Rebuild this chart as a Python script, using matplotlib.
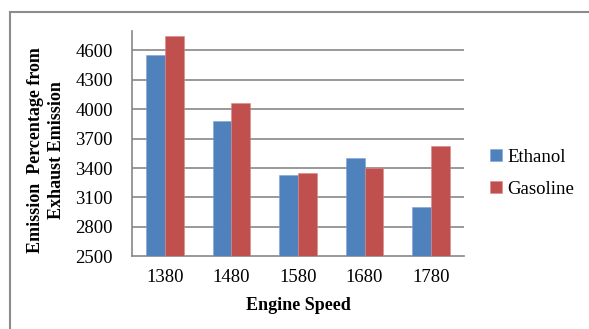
import numpy as np
import matplotlib.pyplot as plt
from matplotlib.lines import Line2D

# engine speed (rpm) and emission readings per fuel
SPEEDS   = ["1380", "1480", "1580", "1680", "1780"]
ETHANOL  = [4555, 3880, 3330, 3505, 3005]
GASOLINE = [4750, 4060, 3345, 3400, 3620]
Y_TICKS  = [2500, 2800, 3100, 3400, 3700, 4000, 4300, 4600]

BLUE = "#4F81BD"
RED  = "#C0504D"
GRID = "#878787"

plt.rcParams["font.family"] = ["Liberation Serif", "DejaVu Serif"]

fig = plt.figure(figsize=(5.89, 3.29), dpi=100)
ax = fig.add_axes([0.2236, 0.221, 0.5647, 0.6857])

x = np.arange(len(SPEEDS))
w = 0.28
ax.bar(x - w / 2, ETHANOL, w, color=BLUE, label="Ethanol", zorder=3,
       edgecolor="#7FA3D3", linewidth=0.4)
ax.bar(x + w / 2, GASOLINE, w, color=RED, label="Gasoline", zorder=3,
       edgecolor="#D98A88", linewidth=0.4)

ax.set_xlim(-0.5, len(SPEEDS) - 0.5)
ax.set_ylim(2500, 4800)
ax.set_yticks(Y_TICKS)
ax.set_yticklabels([str(t) for t in Y_TICKS], fontsize=13.5)
ax.set_xticks(x)
ax.set_xticklabels(SPEEDS, fontsize=13.5)
ax.tick_params(axis="both", length=0)
ax.tick_params(axis="y", pad=13.5)
ax.tick_params(axis="x", pad=9)

for t in Y_TICKS[1:]:
    ax.axhline(t, color=GRID, linewidth=1.2, zorder=1)

for side in ("top", "right"):
    ax.spines[side].set_visible(False)
for side in ("left", "bottom"):
    ax.spines[side].set_color(GRID)
    ax.spines[side].set_linewidth(1.2)

ax.set_xlabel("Engine Speed", fontsize=13, fontweight="bold", labelpad=8)
fig.text(0.078, 0.544, "Emission  Percentage from\nExhaust Emission",
         rotation=90, ha="center", va="center", fontsize=13,
         fontweight="bold", linespacing=1.3)

ax.legend(loc="center left", bbox_to_anchor=(0.8165, 0.473),
          bbox_transform=fig.transFigure, frameon=False, fontsize=13.5,
          handlelength=0.6, handleheight=0.6, handletextpad=0.3,
          labelspacing=0.8, borderpad=0)

# partial frame around the chart area
fx = 9.5 / 589
fy = 1 - 11.7 / 329
fig.add_artist(Line2D([fx, 1], [fy, fy], color="#8C8C8C", linewidth=1.5,
                      transform=fig.transFigure))
fig.add_artist(Line2D([fx, fx], [0, fy], color="#8C8C8C", linewidth=1.5,
                      transform=fig.transFigure))

fig.savefig("out.png", dpi=100, facecolor="white")
